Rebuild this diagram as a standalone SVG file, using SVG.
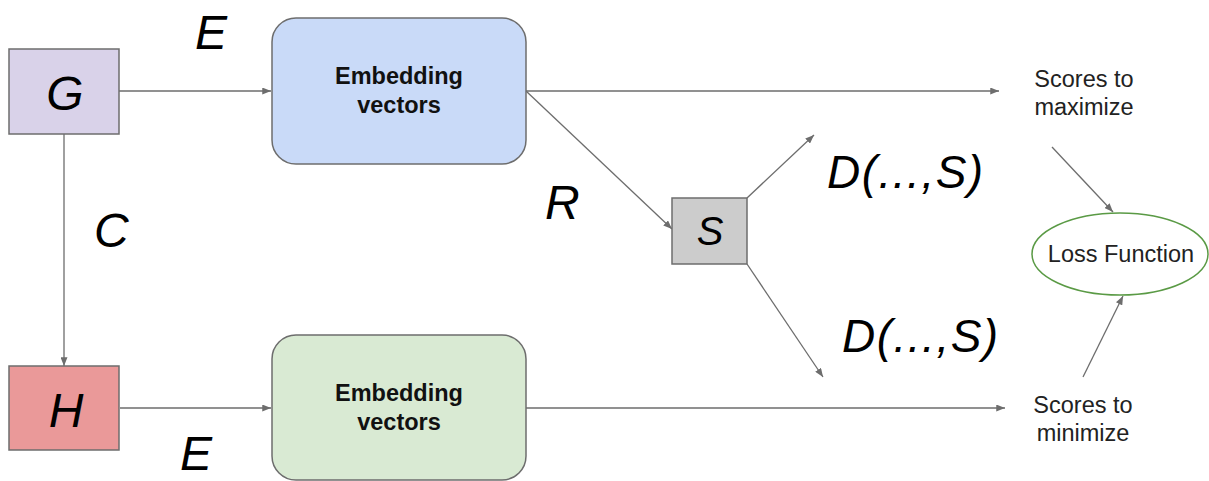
<svg xmlns="http://www.w3.org/2000/svg" width="1209" height="481" viewBox="0 0 1209 481">
  <style>
    .box { stroke: #6d6d6d; stroke-width: 1.5; }
    .big { font-family: "Liberation Sans", Arial, sans-serif; font-style: italic; font-size: 48px; fill: #000; }
    .emb { font-family: "Liberation Sans", Arial, sans-serif; font-weight: bold; font-size: 23.5px; fill: #111; text-anchor: middle; }
    .txt { font-family: "Liberation Sans", Arial, sans-serif; font-size: 23.5px; fill: #222; text-anchor: middle; }
    .dfn { font-family: "Liberation Sans", Arial, sans-serif; font-style: italic; font-size: 46px; letter-spacing: 1.5px; fill: #000; }
    .conn { stroke: #6d6d6d; stroke-width: 1.3; fill: none; marker-end: url(#arr); }
  </style>
  <defs>
    <marker id="arr" viewBox="0 0 10 8" refX="10" refY="4" markerWidth="9" markerHeight="7" markerUnits="userSpaceOnUse" orient="auto">
      <path d="M0,0 L10,4 L0,8 z" fill="#6d6d6d"/>
    </marker>
  </defs>
  <rect width="1209" height="481" fill="#ffffff"/>

  <g id="connectors">
    <line class="conn" x1="119" y1="91" x2="271" y2="91"/>
    <line class="conn" x1="64" y1="134" x2="64" y2="366"/>
    <line class="conn" x1="120" y1="408" x2="271" y2="408"/>
    <line class="conn" x1="526" y1="91" x2="999" y2="91"/>
    <line class="conn" x1="526" y1="91" x2="672" y2="229"/>
    <line class="conn" x1="747" y1="198" x2="814" y2="135"/>
    <line class="conn" x1="747" y1="264" x2="823" y2="377"/>
    <line class="conn" x1="526" y1="408" x2="1005" y2="408"/>
    <line class="conn" x1="1052" y1="147" x2="1113" y2="212"/>
    <line class="conn" x1="1083" y1="377" x2="1123" y2="296"/>
  </g>

  <g id="node-G">
    <rect class="box" x="9" y="49" width="110" height="85" fill="#d9d2e9"/>
    <text class="big" x="65" y="110" text-anchor="middle">G</text>
  </g>
  <g id="node-H">
    <rect class="box" x="9" y="366" width="110" height="84" fill="#ea9999"/>
    <text class="big" x="66" y="427" text-anchor="middle">H</text>
  </g>
  <g id="node-emb1">
    <rect class="box" x="272" y="18" width="254" height="146" rx="24" fill="#c9daf8"/>
    <text class="emb" x="399" y="84">Embedding</text>
    <text class="emb" x="399" y="113">vectors</text>
  </g>
  <g id="node-emb2">
    <rect class="box" x="272" y="335" width="254" height="145" rx="24" fill="#d9ead3"/>
    <text class="emb" x="399" y="401">Embedding</text>
    <text class="emb" x="399" y="430">vectors</text>
  </g>
  <g id="node-S">
    <rect class="box" x="672" y="198" width="75" height="66" fill="#cccccc"/>
    <text class="big" x="710" y="245" text-anchor="middle" style="font-size:40px">S</text>
  </g>
  <g id="node-max">
    <text class="txt" x="1084" y="87">Scores to</text>
    <text class="txt" x="1084" y="115">maximize</text>
  </g>
  <g id="node-min">
    <text class="txt" x="1083" y="413">Scores to</text>
    <text class="txt" x="1083" y="441">minimize</text>
  </g>
  <g id="node-loss">
    <ellipse cx="1120" cy="254" rx="88" ry="41" fill="#ffffff" stroke="#5a9a45" stroke-width="1.5"/>
    <text class="txt" x="1121" y="262">Loss Function</text>
  </g>

  <g id="labels">
    <text class="big" x="195" y="49">E</text>
    <text class="big" x="180" y="470">E</text>
    <text class="big" x="94" y="247">C</text>
    <text class="big" x="545" y="219">R</text>
    <text class="dfn" x="827" y="188">D(...,S)</text>
    <text class="dfn" x="842" y="352">D(...,S)</text>
  </g>
</svg>
